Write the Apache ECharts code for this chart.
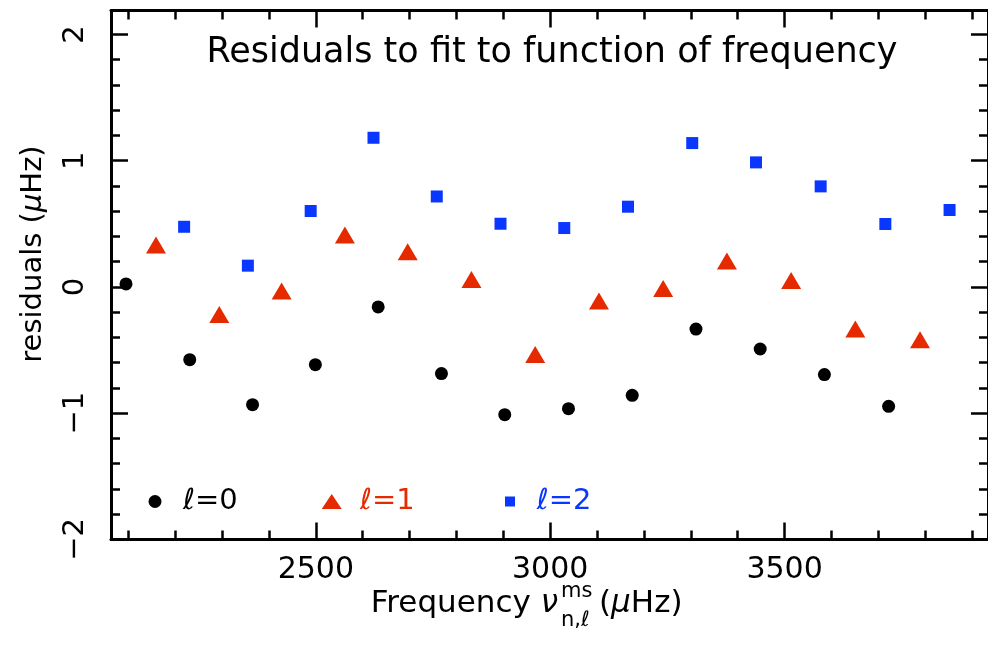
<!DOCTYPE html>
<html>
<head>
<meta charset="utf-8">
<script src="https://cdn.jsdelivr.net/npm/echarts@6/dist/echarts.min.js"></script>
<style>
html,body{margin:0;padding:0;background:#fff;}
#chart{width:988px;height:647px;}
</style>
</head>
<body>
<div id="chart"></div>
<script>
// ---- data ----
const freqL0 = [2095, 2231, 2365, 2499, 2633, 2768, 2903, 3039, 3175, 3311, 3448, 3585, 3722];
const resL0  = [0.024, -0.576, -0.932, -0.615, -0.158, -0.686, -1.011, -0.964, -0.858, -0.333, -0.491, -0.694, -0.945];
const freqL1 = [2159, 2294, 2427, 2562, 2696, 2832, 2968, 3104, 3241, 3377, 3514, 3651, 3789];
const resL1  = [0.333, -0.217, -0.032, 0.412, 0.279, 0.060, -0.534, -0.111, -0.011, 0.206, 0.052, -0.333, -0.417];
const freqL2 = [2219, 2355, 2489, 2623, 2758, 2894, 3030, 3166, 3303, 3439, 3577, 3715, 3852];
const resL2  = [0.477, 0.169, 0.602, 1.182, 0.717, 0.501, 0.467, 0.636, 1.140, 0.987, 0.797, 0.499, 0.610];

const seriesNames = ['ℓ=0', 'ℓ=1', 'ℓ=2'];

// ---- tick values ----
const xMajorTicks = [2500, 3000, 3500];
const xMinorTicks = [2100, 2200, 2300, 2400, 2600, 2700, 2800, 2900, 3100, 3200, 3300, 3400, 3600, 3700, 3800, 3900];
const yMajorTicks = [-2, -1, 0, 1, 2];
const yMinorTicks = [-1.8, -1.6, -1.4, -1.2, -0.8, -0.6, -0.4, -0.2, 0.2, 0.4, 0.6, 0.8, 1.2, 1.4, 1.6, 1.8];

const X_MIN = 2063, X_MAX = 3934;
const Y_MIN = -2, Y_MAX = 2.19;

const FONT = 'DejaVu Sans';
const RED = '#e62a00';
const BLUE = '#0a37ff';

function zip(xs, ys) { return xs.map((x, i) => [x, ys[i]]); }

const chart = echarts.init(document.getElementById('chart'), null, {renderer: 'canvas'});

const lineStyle = {color: '#000', width: 3};
const tickStyle = {color: '#000', width: 2.5};

function xAx(pos, values, len, showLine, showLabel) {
  return {
    type: 'value', position: pos, min: X_MIN, max: X_MAX,
    splitLine: {show: false},
    axisLine: {show: showLine, onZero: false, lineStyle: lineStyle},
    axisTick: {show: true, inside: true, length: len, lineStyle: tickStyle, customValues: values},
    axisLabel: showLabel ? {show: true, customValues: values, margin: 16, fontSize: 30, fontFamily: FONT, color: '#000',
      formatter: v => String(v)} : {show: false}
  };
}
function yAx(pos, values, len, showLine, showLabel) {
  return {
    type: 'value', position: pos, min: Y_MIN, max: Y_MAX,
    splitLine: {show: false},
    axisLine: {show: showLine, onZero: false, lineStyle: lineStyle},
    axisTick: {show: true, inside: true, length: len, lineStyle: tickStyle, customValues: values},
    axisLabel: showLabel ? {
      show: true, customValues: values, rotate: 90, margin: 21, fontSize: 29, fontFamily: FONT, color: '#000',
      formatter: v => String(v).replace('-', '\u2212')
    } : {show: false}
  };
}

const legendText = (c, pad) => ({fontSize: 29, fontFamily: FONT, color: c, padding: [0, 0, 0, pad]});

chart.setOption({
  animation: false,
  backgroundColor: '#fff',
  grid: {left: 111, top: 10.5, width: 884, height: 529, containLabel: false},
  xAxis: [
    xAx('bottom', xMajorTicks, 17, true, true),
    xAx('bottom', xMinorTicks, 9, false, false),
    xAx('top', xMajorTicks, 17, true, false),
    xAx('top', xMinorTicks, 9, false, false)
  ],
  yAxis: [
    yAx('left', yMajorTicks, 17, true, true),
    yAx('left', yMinorTicks, 9, false, false),
    yAx('right', yMajorTicks, 17, true, false),
    yAx('right', yMinorTicks, 9, false, false)
  ],
  legend: [
    {data: [{name: seriesNames[0], icon: 'circle'}], left: 148.5, top: 487, padding: 0,
     itemWidth: 13, itemHeight: 13, selectedMode: false, textStyle: legendText('#000', 16.5)},
    {data: [{name: seriesNames[1], icon: 'path://M10,0L20,15L0,15Z'}], left: 321.7, top: 487, padding: 0,
     itemWidth: 20, itemHeight: 15, selectedMode: false, textStyle: legendText(RED, 13.3)},
    {data: [{name: seriesNames[2], icon: 'path://M0,0L10,0L10,10L0,10Z'}], left: 505, top: 487, padding: 0,
     itemWidth: 10, itemHeight: 10, selectedMode: false, textStyle: legendText(BLUE, 16.7)}
  ],
  series: [
    {name: seriesNames[0], type: 'scatter', xAxisIndex: 0, yAxisIndex: 0, symbol: 'circle', symbolSize: 13,
     itemStyle: {color: '#000', opacity: 1}, data: zip(freqL0, resL0)},
    {name: seriesNames[1], type: 'scatter', xAxisIndex: 0, yAxisIndex: 0, symbol: 'triangle', symbolSize: [20, 17],
     itemStyle: {color: RED, opacity: 1}, data: zip(freqL1, resL1)},
    {name: seriesNames[2], type: 'scatter', xAxisIndex: 0, yAxisIndex: 0, symbol: 'rect', symbolSize: 12,
     itemStyle: {color: BLUE, opacity: 1}, data: zip(freqL2, resL2)}
  ],
  graphic: [
    {type: 'text', x: 552, y: 53, silent: true,
     style: {text: 'Residuals to fit to function of frequency', font: '35px "DejaVu Sans"', fill: '#000',
             textAlign: 'center', textVerticalAlign: 'middle'}},
    {type: 'text', x: 33, y: 254, rotation: Math.PI / 2, silent: true,
     style: {text: 'residuals ({i|μ}Hz)', font: '29px "DejaVu Sans"', fill: '#000',
             textAlign: 'center', textVerticalAlign: 'middle',
             rich: {i: {fontStyle: 'italic', fontSize: 29, fontFamily: FONT}}}},
    {type: 'text', x: 558, y: 604, silent: true,
     style: {text: 'Frequency {i|ν}', font: '31px "DejaVu Sans"', fill: '#000',
             textAlign: 'right', textVerticalAlign: 'middle',
             rich: {i: {fontStyle: 'italic', fontSize: 31, fontFamily: FONT}}}},
    {type: 'text', x: 561, y: 592, silent: true,
     style: {text: 'ms', font: '21px "DejaVu Sans"', fill: '#000', textAlign: 'left', textVerticalAlign: 'middle'}},
    {type: 'text', x: 561, y: 621, silent: true,
     style: {text: 'n,ℓ', font: '21px "DejaVu Sans"', fill: '#000', textAlign: 'left', textVerticalAlign: 'middle'}},
    {type: 'text', x: 599, y: 604, silent: true,
     style: {text: '({i|μ}Hz)', font: '31px "DejaVu Sans"', fill: '#000',
             textAlign: 'left', textVerticalAlign: 'middle',
             rich: {i: {fontStyle: 'italic', fontSize: 31, fontFamily: FONT}}}}
  ]
});
</script>
</body>
</html>
